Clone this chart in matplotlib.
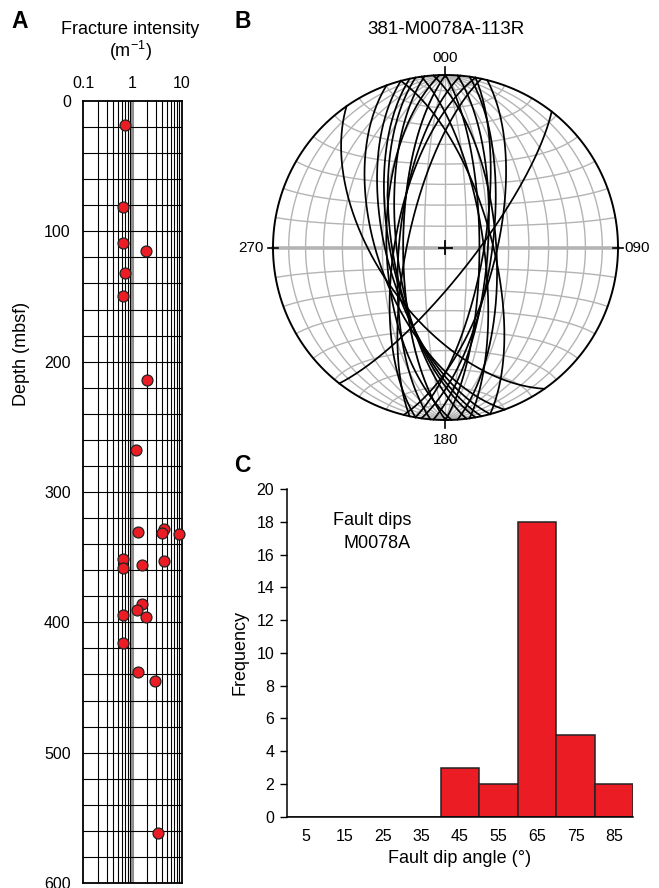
import numpy as np
import matplotlib
matplotlib.use('Agg')
import matplotlib.pyplot as plt

plt.rcParams['font.family'] = ['Liberation Sans', 'DejaVu Sans']

# ---- Panel A: fracture intensity vs depth ----
INTENSITY = [0.72, 0.65, 0.65, 1.9, 0.71, 0.65, 2.0, 1.19,
             1.33, 4.5, 3.98, 9.1, 0.64, 0.64, 1.6, 4.3,
             1.6, 1.25, 1.93, 0.64, 0.64, 1.33, 2.95, 3.3]
DEPTH = [18.6, 81, 108.6, 115, 132, 150, 213.8, 268,
         330.5, 328.2, 331.3, 332, 351.7, 358, 356, 353,
         385.7, 390.6, 395.6, 394.6, 415.6, 438, 445, 562]

# ---- Panel B: great circles (dip direction, dip) ----
DIP_DIRS = [235, 128,
            250, 255, 258, 260, 263, 268, 270, 275, 280, 282,
            75, 82, 86, 90, 94, 98, 100, 104]
DIPS = [58, 77,
        58, 62, 64, 65, 67, 62, 70, 68, 66, 72,
        68, 72, 66, 74, 70, 68, 72, 66]

# ---- Panel C: fault dip histogram ----
BIN_EDGES = [0, 10, 20, 30, 40, 50, 60, 70, 80, 90]
COUNTS = [0, 0, 0, 0, 3, 2, 18, 5, 2]
BIN_LABELS = ['5', '15', '25', '35', '45', '55', '65', '75', '85']

RED = '#ec1c24'
W, H = 659, 888


def px_axes(x0, y0, x1, y1):
    return [x0 / W, 1 - y1 / H, (x1 - x0) / W, (y1 - y0) / H]


def project(v):
    """equal-area (Schmidt) lower hemisphere, v = (east, north, up)"""
    x, y, z = v
    d = np.sqrt(1 - z)
    return x / d, y / d


fig = plt.figure(figsize=(W / 100, H / 100), dpi=100)

# ================= A =================
axA = fig.add_axes(px_axes(83.3, 101, 181.5, 883))
axA.set_xscale('log')
axA.set_xlim(0.1, 10)
axA.set_ylim(600, 0)
for v in list(np.arange(0.2, 1.0, 0.1)) + list(np.arange(2, 10, 1)):
    axA.axvline(v, color='black', lw=0.8, zorder=1)
axA.axvline(1, color='#909090', lw=2.2, zorder=1)
for d in range(20, 600, 20):
    axA.axhline(d, color='black', lw=0.8, zorder=1)
axA.scatter(INTENSITY, DEPTH, s=62, color=RED, edgecolor='#222222',
            linewidth=0.9, zorder=3, clip_on=False)
axA.xaxis.tick_top()
axA.set_xticks([0.1, 1, 10])
axA.set_xticklabels(['0.1', '1', '10'])
axA.xaxis.set_minor_locator(matplotlib.ticker.NullLocator())
axA.set_yticks(range(0, 601, 100))
axA.tick_params(axis='both', length=0, labelsize=11.5)
axA.tick_params(axis='x', pad=7)
axA.tick_params(axis='y', pad=9)
for sp in axA.spines.values():
    sp.set_linewidth(1.3)
fig.text(22 / W, 1 - 354 / H, 'Depth (mbsf)', rotation=90,
         ha='center', va='center', fontsize=13)
fig.text(130 / W, 1 - 30 / H, 'Fracture intensity', ha='center',
         va='center', fontsize=13)
fig.text(130 / W, 1 - 51 / H, r'(m$^{\mathregular{-1}}$)', ha='center',
         va='center', fontsize=13)
fig.text(11 / W, 1 - 22 / H, 'A', fontsize=16.5, fontweight='bold',
         ha='left', va='center')

# ================= B =================
R = 172.5
cx, cy = 445.5, 247.5
half = 200
axB = fig.add_axes(px_axes(cx - half, cy - half, cx + half, cy + half))
axB.set_xlim(-half / R, half / R)
axB.set_ylim(-half / R, half / R)
axB.set_aspect('equal')
axB.axis('off')

grey = '#b4b4b4'
t = np.linspace(0, np.pi, 200)
# meridians (N-S striking great circles)
for dip in range(10, 90, 10):
    for sgn in (1, -1):
        dr = np.radians(dip)
        v = (sgn * np.sin(t) * np.cos(dr), np.cos(t), -np.sin(t) * np.sin(dr))
        X, Y = project(v)
        axB.plot(X, Y, color=grey, lw=1.0, zorder=1)
axB.plot([0, 0], [-1, 1], color=grey, lw=1.0, zorder=1)
# small circles about the N-S axis
for c in list(range(10, 90, 10)) + list(range(100, 180, 10)):
    cr = np.radians(c)
    v = (np.sin(cr) * np.cos(t), np.full_like(t, np.cos(cr)), -np.sin(cr) * np.sin(t))
    X, Y = project(v)
    axB.plot(X, Y, color=grey, lw=1.0, zorder=1)
axB.plot([-1, 1], [0, 0], color=grey, lw=2.6, zorder=1)

# primitive
a = np.linspace(0, 2 * np.pi, 400)
axB.plot(np.cos(a), np.sin(a), color='black', lw=1.4, zorder=3)

# fault planes
for dd, dp in zip(DIP_DIRS, DIPS):
    ddr, dpr = np.radians(dd), np.radians(dp)
    s = ddr - np.pi / 2
    S = np.array([np.sin(s), np.cos(s), 0.0])
    D = np.array([np.cos(dpr) * np.sin(ddr), np.cos(dpr) * np.cos(ddr), -np.sin(dpr)])
    pts = np.outer(np.cos(t), S) + np.outer(np.sin(t), D)
    X, Y = project(pts.T)
    axB.plot(X, Y, color='black', lw=1.25, zorder=4)

# ticks, centre cross and labels
tk = 0.045
axB.plot([0, 0], [1 - tk * 0.3, 1 + tk], color='black', lw=1.2, zorder=5)
axB.plot([0, 0], [-1 + tk * 0.3, -1 - tk], color='black', lw=1.2, zorder=5)
axB.plot([-1 - tk * 0.6, -1 + tk * 0.6], [0, 0], color='black', lw=1.2, zorder=5)
axB.plot([1 - tk * 0.6, 1 + tk * 0.6], [0, 0], color='black', lw=1.2, zorder=5)
axB.plot([-0.04, 0.04], [0, 0], color='black', lw=1.3, zorder=5)
axB.plot([0, 0], [-0.04, 0.04], color='black', lw=1.3, zorder=5)
axB.text(0, 1.1, '000', ha='center', va='center', fontsize=11)
axB.text(0, -1.115, '180', ha='center', va='center', fontsize=11)
axB.text(-1.13, 0, '270', ha='center', va='center', fontsize=11)
axB.text(1.11, 0, '090', ha='center', va='center', fontsize=11)
fig.text(cx / W, 1 - 30 / H, '381-M0078A-113R', ha='center', va='center',
         fontsize=13.5)
fig.text(234 / W, 1 - 22 / H, 'B', fontsize=16.5, fontweight='bold',
         ha='left', va='center')

# ================= C =================
axC = fig.add_axes(px_axes(286.8, 489, 633.3, 816.7))
widths = np.diff(BIN_EDGES)
axC.bar(BIN_EDGES[:-1], COUNTS, width=widths, align='edge', color=RED,
        edgecolor='#222222', linewidth=1.1, zorder=2)
axC.set_xlim(0, 90)
axC.set_ylim(0, 20)
centers = [e + w / 2 for e, w in zip(BIN_EDGES[:-1], widths)]
axC.set_xticks(centers)
axC.set_xticklabels(BIN_LABELS)
axC.set_yticks(range(0, 21, 2))
axC.spines['top'].set_visible(False)
axC.spines['right'].set_visible(False)
axC.spines['left'].set_linewidth(1.1)
axC.spines['bottom'].set_linewidth(1.1)
axC.tick_params(axis='x', length=0, pad=9, labelsize=11.5)
axC.tick_params(axis='y', length=5, width=1, pad=4, labelsize=11.5)
axC.set_xlabel('Fault dip angle (°)', fontsize=13, labelpad=4)
axC.set_ylabel('Frequency', fontsize=13, labelpad=6)
axC.text(0.247, 0.905, 'Fault dips', transform=axC.transAxes, ha='center',
         va='center', fontsize=13)
axC.text(0.26, 0.833, 'M0078A', transform=axC.transAxes, ha='center',
         va='center', fontsize=13)
fig.text(234 / W, 1 - 465 / H, 'C', fontsize=16.5, fontweight='bold',
         ha='left', va='center')

fig.savefig('out.png', dpi=100)
